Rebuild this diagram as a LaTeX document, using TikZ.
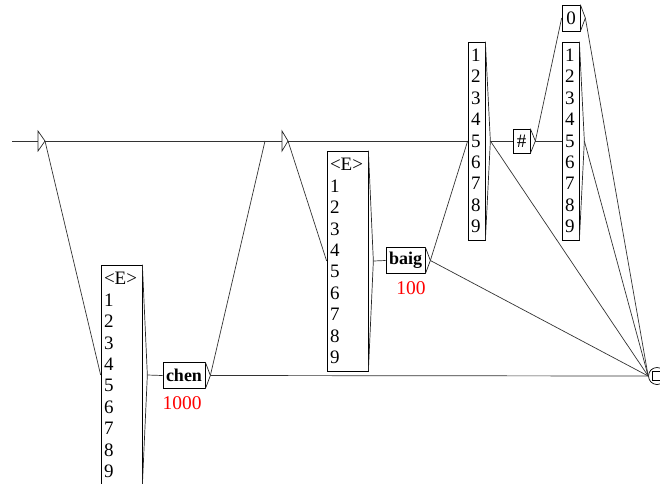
\documentclass[tikz,border=0pt]{standalone}
\usepackage{fontspec}
\setmainfont{Liberation Serif}
\begin{document}
\begin{tikzpicture}[x=1pt,y=-1pt,line width=0.7pt,
  listbox/.style={draw=black, rectangle, inner xsep=3pt, inner ysep=0pt, align=left,
    font=\fontsize{19}{21.4}\selectfont},
  wordbox/.style={draw=black, rectangle, minimum height=26pt, inner xsep=3pt, inner ysep=0pt,
    font=\bfseries\fontsize{18}{20}\selectfont},
  smallbox/.style={draw=black, rectangle, inner sep=0pt, font=\fontsize{19}{20}\selectfont},
  outlabel/.style={text=red, font=\fontsize{19.5}{20}\selectfont},
  edge/.style={draw=black!80, line width=0.7pt},
  tri/.style={draw=black!85, line width=0.7pt, line join=miter}]
\useasboundingbox (0,0) rectangle (660,483);

% boxes
\node[listbox, text width=35pt, minimum height=220pt] (A) at (121.5,375) {<E>\\1\\2\\3\\4\\5\\6\\7\\8\\9};
\node[wordbox, minimum width=42pt] (chen) at (184,375.5) {chen};
\node[outlabel] (l1000) at (182,403) {1000};
\node[listbox, text width=35pt, minimum height=220pt] (B) at (347.5,261) {<E>\\1\\2\\3\\4\\5\\6\\7\\8\\9};
\node[wordbox, minimum width=39pt] (baig) at (405.5,260.5) {baig};
\node[outlabel] (l100) at (411,288) {100};
\node[listbox, text width=11pt, minimum height=198pt] (C) at (476.5,141) {1\\2\\3\\4\\5\\6\\7\\8\\9};
\node[smallbox, minimum width=17pt, minimum height=24pt] (hash) at (521.5,141) {\#};
\node[smallbox, minimum width=18pt, minimum height=26pt] (zero) at (571,18) {0};
\node[listbox, text width=11pt, minimum height=198pt] (D) at (570.5,141) {1\\2\\3\\4\\5\\6\\7\\8\\9};

% final state
\node[draw=black, circle, minimum size=17pt, inner sep=0pt] (F) at (657,376) {};
\node[draw=black, rectangle, minimum size=9pt, inner sep=0pt] (Fsq) at (F.center) {};

% output triangles
\foreach \n in {A,chen,B,baig,C,hash,zero,D}{
  \coordinate (\n tip) at ([xshift=5pt]\n.east);
  \draw[tri] (\n.north east) -- (\n tip) -- (\n.south east);
}

% epsilon (empty) states
\coordinate (S0) at (12,141);
\coordinate (S1) at (38,141);
\coordinate (S1t) at (38,131);
\coordinate (S1b) at (38,151);
\coordinate (Stip) at (45,141);
\draw[edge] (S0) -- (S1);
\draw[tri] (S1t) -- (Stip) -- (S1b) -- cycle;

\coordinate (N2in) at (265,141);
\coordinate (N2) at (282,141);
\coordinate (N2t) at (282,131);
\coordinate (N2b) at (282,151);
\coordinate (N2tip) at (288,141);
\draw[edge] (N2in) -- (N2);
\draw[tri] (N2t) -- (N2tip) -- (N2b) -- cycle;

% transitions
\draw[edge] (Stip) -- (A.west);
\draw[edge] (Stip) -- (N2in);
\draw[edge] (Atip) -- (chen.west);
\draw[edge] (chentip) -- (N2in);
\draw[edge] (chentip) -- (F.west);
\draw[edge] (N2tip) -- (B.west);
\draw[edge] (N2tip) -- (C.west);
\draw[edge] (Btip) -- (baig.west);
\draw[edge] (baigtip) -- (C.west);
\draw[edge] (baigtip) -- (F.west);
\draw[edge] (Ctip) -- (hash.west);
\draw[edge] (Ctip) -- (F.west);
\draw[edge] (hashtip) -- (zero.west);
\draw[edge] (hashtip) -- (D.west);
\draw[edge] (zerotip) -- (F.west);
\draw[edge] (Dtip) -- (F.west);
\end{tikzpicture}
\end{document}
